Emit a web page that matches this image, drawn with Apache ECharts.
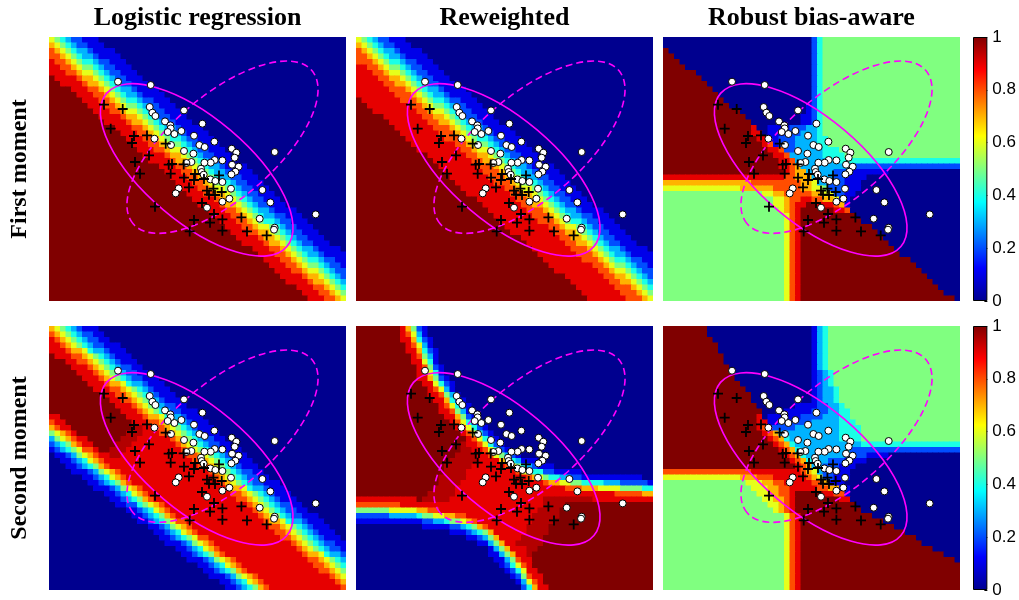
<!DOCTYPE html>
<html>
<head>
<meta charset="utf-8">
<script src="https://cdn.jsdelivr.net/npm/echarts/dist/echarts.min.js"></script>
<style>
  html, body { margin: 0; padding: 0; background: #fff; }
  #chart { width: 1019px; height: 600px; }
</style>
</head>
<body>
<div id="chart"></div>
<script>
// probability maps, one string per grid row (top to bottom), 54 cells per row
// cell value: 0..9 and 'a' -> tenths (a = 1.0), two digits -> hundredths (95 = 0.95); "c*n" = n cells of c
const logisticFirst = [
  '6 5 4 3 2*2 1*3 0*45', '7 6 5 4 3 2*2 1*3 0*44', '8 7 6 5 4 3*2 2 1*4 0*42', '8*2 7 6 5 4 3*2 2 1*4 0*41',
  '9 8*2 7 6 5 4*2 3 2*2 1*3 0*40', '9*2 8*2 7 6 5*2 4 3 2*2 1*3 0*39', '9*3 8*2 7 6*2 5 4 3 2*2 1*3 0*38', 'a 9*4 8 7*2 6 5 4 3 2*2 1*3 0*37',
  'a*2 9*4 8 7*2 6 5 4 3 2*2 1*3 0*36', 'a*4 9*3 8*2 7 6 5 4 3*2 2 1*4 0*34', 'a*5 9*3 8*2 7 6 5 4 3*2 2 1*4 0*33', 'a*6 9*3 8*2 7 6 5 4*2 3 2*2 1*3 0*32',
  'a*7 9*3 8*2 7 6 5*2 4 3 2*2 1*3 0*31', 'a*8 9*3 8*2 7 6*2 5 4 3 2*2 1*3 0*30', 'a*9 9*4 8 7*2 6 5 4 3 2*2 1*3 0*29', 'a*10 9*4 8 7*2 6 5 4 3 2*2 1*3 0*28',
  'a*12 9*3 8*2 7 6 5 4 3*2 2 1*4 0*26', 'a*13 9*3 8*2 7 6 5 4 3*2 2 1*4 0*25', 'a*14 9*3 8*2 7 6 5 4*2 3 2*2 1*3 0*24', 'a*15 9*3 8*2 7 6 5*2 4 3 2*2 1*3 0*23',
  'a*16 9*3 8*2 7 6*2 5 4 3 2*2 1*3 0*22', 'a*17 9*4 8 7*2 6 5 4 3 2*2 1*3 0*21', 'a*18 9*4 8 7*2 6 5 4 3 2*2 1*3 0*20', 'a*20 9*3 8*2 7 6 5 4 3*2 2 1*4 0*18',
  'a*21 9*3 8*2 7 6 5 4 3*2 2 1*4 0*17', 'a*22 9*3 8*2 7 6 5 4 3*2 2*2 1*3 0*16', 'a*23 9*3 8*2 7 6 5 4*2 3 2*2 1*3 0*15', 'a*24 9*3 8*2 7 6*2 5 4 3 2*2 1*3 0*14',
  'a*25 9*3 8*2 7*2 6 5 4 3 2*2 1*3 0*13', 'a*26 9*4 8 7*2 6 5 4 3 2*2 1*3 0*12', 'a*27 9*4 8 7*2 6 5 4 3 2*2 1*3 0*11', 'a*29 9*3 8*2 7 6 5 4 3*2 2 1*4 0*9',
  'a*30 9*3 8*2 7 6 5 4 3*2 2*2 1*3 0*8', 'a*31 9*3 8*2 7 6 5 4*2 3 2*2 1*3 0*7', 'a*32 9*3 8*2 7 6*2 5 4 3 2*2 1*3 0*6', 'a*33 9*3 8*2 7*2 6 5 4 3 2*2 1*3 0*5',
  'a*34 9*4 8 7*2 6 5 4 3 2*2 1*3 0*4', 'a*35 9*4 8 7*2 6 5 4 3 2*2 1*3 0*3', 'a*37 9*3 8*2 7 6 5 4 3*2 2 1*4 0', 'a*38 9*3 8*2 7 6 5 4 3*2 2 1*4',
  'a*39 9*3 8*2 7 6 5 4*2 3 2*2 1*2', 'a*40 9*3 8*2 7 6 5*2 4 3 2*2 1', 'a*41 9*3 8*2 7 6*2 5 4 3 2*2', 'a*42 9*4 8 7*2 6 5 4 3 2',
  'a*43 9*4 8 7*2 6 5 4 3', 'a*45 9*3 8*2 7 6 5 4', 'a*46 9*3 8*2 7 6 5', 'a*47 9*3 8*2 7 6'
];
const reweightedFirst = [
  '6 5 4 3 2*2 1*3 0*45', '7 6 5 4 3 2*2 1*3 0*44', '8 7 6 5 4 3*2 2 1*4 0*42', '8*2 7 6 5 4 3*2 2 1*4 0*41',
  '8*3 7 6 5 4*2 3 2*2 1*3 0*40', '9*2 8*2 7 6 5*2 4 3 2*2 1*3 0*39', '9*3 8*2 7 6*2 5 4 3 2*2 1*3 0*38', '9*4 8*2 7*2 6 5 4 3 2*2 1*3 0*37',
  '9*5 8*2 7*2 6 5 4 3 2*2 1*3 0*36', '9*6 8*3 7 6 5 4 3*2 2 1*4 0*34', '9*7 8*3 7 6 5 4 3*2 2 1*4 0*33', 'a 9*7 8*3 7 6 5 4*2 3 2*2 1*3 0*32',
  'a*2 9*8 8*2 7 6 5*2 4 3 2*2 1*3 0*31', 'a*3 9*8 8*2 7 6*2 5 4 3 2*2 1*3 0*30', 'a*5 9*7 8*2 7*2 6 5 4 3 2*2 1*3 0*29', 'a*6 9*7 8*2 7*2 6 5 4 3 2*2 1*3 0*28',
  'a*7 9*7 8*3 7 6 5 4 3*2 2 1*4 0*26', 'a*8 9*7 8*3 7 6 5 4 3*2 2 1*4 0*25', 'a*9 9*7 8*3 7 6 5 4*2 3 2*2 1*3 0*24', 'a*10 9*8 8*2 7 6 5*2 4 3 2*2 1*3 0*23',
  'a*11 9*8 8*2 7 6*2 5 4 3 2*2 1*3 0*22', 'a*13 9*7 8*2 7*2 6 5 4 3 2*2 1*3 0*21', 'a*14 9*7 8*2 7*2 6 5 4 3 2*2 1*3 0*20', 'a*15 9*7 8*3 7 6 5 4 3*2 2 1*4 0*18',
  'a*16 9*7 8*3 7 6 5 4 3*2 2 1*4 0*17', 'a*17 9*7 8*3 7 6 5 4 3*2 2*2 1*3 0*16', 'a*18 9*7 8*3 7 6 5 4*2 3 2*2 1*3 0*15', 'a*19 9*8 8*2 7 6*2 5 4 3 2*2 1*3 0*14',
  'a*20 9*8 8*2 7*2 6 5 4 3 2*2 1*3 0*13', 'a*22 9*7 8*2 7*2 6 5 4 3 2*2 1*3 0*12', 'a*23 9*7 8*2 7*2 6 5 4 3 2*2 1*3 0*11', 'a*24 9*7 8*3 7 6 5 4 3*2 2 1*4 0*9',
  'a*25 9*7 8*3 7 6 5 4 3*2 2*2 1*3 0*8', 'a*26 9*7 8*3 7 6 5 4*2 3 2*2 1*3 0*7', 'a*27 9*8 8*2 7 6*2 5 4 3 2*2 1*3 0*6', 'a*28 9*8 8*2 7*2 6 5 4 3 2*2 1*3 0*5',
  'a*30 9*7 8*2 7*2 6 5 4 3 2*2 1*3 0*4', 'a*31 9*7 8*2 7*2 6 5 4 3 2*2 1*3 0*3', 'a*32 9*7 8*3 7 6 5 4 3*2 2 1*4 0', 'a*33 9*7 8*3 7 6 5 4 3*2 2 1*4',
  'a*34 9*7 8*3 7 6 5 4*2 3 2*2 1*2', 'a*35 9*8 8*2 7 6 5*2 4 3 2*2 1', 'a*36 9*8 8*2 7 6*2 5 4 3 2*2', 'a*38 9*7 8*2 7*2 6 5 4 3 2',
  'a*39 9*7 8*2 7*2 6 5 4 3', 'a*40 9*7 8*3 7 6 5 4', 'a*41 9*7 8*3 7 6 5', 'a*42 9*7 8*3 7 6'
];
const robustFirst = [
  '0*27 2 4 5*25', '0*27 2 4 5*25', 'a 0*26 2 4 5*25', 'a*2 0*25 2 4 5*25',
  'a*3 0*24 2 4 5*25', 'a*4 0*23 2 4 5*25', 'a*6 0*21 2 4 5*25', 'a*7 0*20 2 4 5*25',
  'a*8 0*19 2 4 5*25', 'a*9 0*18 2 4 5*25', 'a*10 0*17 2 4 5*25', 'a*11 0*16 2 4 5*25',
  'a*12 0*14 1 2 4 5*25', 'a*14 0*12 1 2 4 5*25', 'a*15 0*10 1*2 2 4 5*25', 'a*16 0*9 1*2 2 4 5*25',
  'a*16 9 0*2 1*4 2*3 3*2 4 5*25', 'a*16 9*2 0 1*3 2*3 3*3 4 5*25', 'a*17 9*2 1*2 2*3 3*4 4*2 5*24', 'a*18 9 8 1 2*3 3*4 4*2 5*24',
  'a*19 9*2 8 2*2 3*5 4*3 5*22', 'a*20 9*2 8 3*6 4*4 5*21', 'a*21 9*2 8 3*7 4*23', 'a*21 9*2 8 7 3*9 2*20',
  'a*22 9 8 7*2 3*5 2*3 1*7 0*13', '9*22 8*2 7*3 3*4 2*2 1*4 0*17', '7*16 8*9 7*2 6 3*2 2*3 1*3 0*18', '6*14 7*6 8*5 7*2 6*2 5 2*3 1*3 0*18',
  '5*18 6*2 7*2 8*5 7*2 6*2 2*2 1*2 0*19', '5*20 6*2 7 8*2 9*2 8*2 7*2 6 1*2 0*20', '5*20 6*2 7 8 9*2 a*2 9*3 8 7 1 0*20', '5*21 6 7 8 9 a*6 9*2 8 0*20',
  '5*22 6 8 9 a*10 0*19', '5*22 6 8 9 a*11 0*18', '5*22 6 8 9 a*13 0*16', '5*22 6 8 9 a*14 0*15',
  '5*22 6 8 9 a*15 0*14', '5*22 6 8 9 a*16 0*13', '5*22 6 8 9 a*17 0*12', '5*22 6 8 9 a*18 0*11',
  '5*22 6 8 9 a*20 0*9', '5*22 6 8 9 a*21 0*8', '5*22 6 8 9 a*22 0*7', '5*22 6 8 9 a*23 0*6',
  '5*22 6 8 9 a*24 0*5', '5*22 6 8 9 a*25 0*4', '5*22 6 8 9 a*26 0*3', '5*22 6 8 9 a*28 0'
];
const logisticSecond = [
  '7 6 5 4 3 2 1*3 0*45', '8 7 6 5 4 3 2*2 1*2 0*44', '9 8 7 6 5 4 3 2*2 1*2 0*43', '9*2 8 7 6 5 4 3 2*2 1*3 0*41',
  '9*3 8 7*2 6 4 3*2 2 1*3 0*40', 'a 9*3 8*2 7 6 5 4 3 2 1*3 0*39', 'a*3 9*2 8*2 7 6 5 4 3 2 1*3 0*38', 'a*4 9*3 8 7 6 5 4 3 2*2 1*2 0*37',
  'a*5 9*3 8 7 6 5 4 3 2*2 1*2 0*36', 'a*6 9*3 8 7 6 5 4 3 2*2 1*3 0*34', 'a*7 9*3 8 7*2 6 4 3*2 2 1*3 0*33', 'a*8 9*3 8*2 7 6 5 4 3 2 1*3 0*32',
  'a*10 9*2 8*2 7 6 5 4 3 2 1*3 0*31', 'a*11 9*2 8*2 7 6 5 4 3 2 1*3 0*30', 'a*12 9*3 8 7 6 5 4 3 2*2 1*2 0*29', 'a*13 9*3 8 7 6 5 4 3 2*2 1*3 0*27',
  '9*2 a*12 9*3 8 7*2 6 4 3*2 2 1*3 0*26', '8 9*2 a*12 9*3 8*2 7 6 5 4 3 2 1*3 0*25', '7 8 9*2 a*11 95*2 9*2 8*2 7 6 5 4 3 2 1*3 0*24', '5 6 7 8 9 a*9 95*3 9*3 8*2 7 6 5 4 3 2 1*3 0*23',
  '3 5 6 7 8 9*2 a*6 95*3 9*6 8 7 6 5 4 3 2*2 1*2 0*22', '2 3 4 5 7 8 9*2 a*4 95*3 9*8 8 7 6 5 4 3 2*2 1*2 0*21', '1 2 3 4 5 6 8*2 9 a*2 95*3 9*10 8 7 6 5 4 3 2*2 1*3 0*19', '0 1*2 2 3 5 6 7 8 9*2 95*2 9*12 8*2 7 6 5 4 3 2 1*3 0*18',
  '0*2 1*2 2 3 4 6 7 8 9*16 8*2 7 6 5 4 3 2 1*3 0*17', '0*3 1*2 2 3 4 5 7 8 9*16 8*2 7 6 5 4 3 2 1*3 0*16', '0*4 1*3 2 3 5 6 7 8 9*16 8 7 6 5 4 3 2*2 1*2 0*15', '0*6 1*2 2 3 4 6 7 8 9*16 8 7 6 5 4 3 2*2 1*2 0*14',
  '0*7 1*2 2 3 4 5 7 8 9*16 8 7 6 5 4 3 2*2 1*3 0*12', '0*8 1*3 2 3 5 6 7 8 9*15 8 7*2 6 4 3*2 2 1*3 0*11', '0*10 1*2 2 3 4 6 7 8 9*15 8*2 7 6 5 4 3 2 1*3 0*10', '0*11 1*2 2 3 4 5 7 8 9*15 8*2 7 6 5 4 3 2 1*3 0*9',
  '0*12 1*2 2*2 4 5 6 7 8 9*15 8 7 6 5 4 3 2*2 1*2 0*8', '0*14 1*2 2 3 4 6 7 8 9*15 8 7 6 5 4 3 2*2 1*2 0*7', '0*15 1*2 2 3 4 5 7 8 9*15 8 7 6 5 4 3 2*2 1*3 0*5', '0*16 1*2 2 3 4 5 6 8*2 9*14 8 7*2 6 4 3*2 2 1*3 0*4',
  '0*18 1*2 2 3 5 6 7 8 9*14 8*2 7 6 5 4 3 2 1*3 0*3', '0*19 1*2 2 3 4 6 7 8 9*14 8*2 7 6 5 4 3 2 1*3 0*2', '0*20 1*2 2 3 4 5 6 8*2 9*13 8*2 7 6 5 4 3 2 1*3 0', '0*21 1*3 2 3 5 6 7 8 9*14 8 7 6 5 4 3 2*2 1*2',
  '0*23 1*2 2 3 4 6 7 8 9*14 8 7 6 5 4 3 2*2 1', '0*24 1*2 2 3 4 5 7 8 9*14 8 7*2 6 4 3*2 2', '0*25 1*3 2 3 5 6 7 8 9*13 8*2 7 6 5 4 3', '0*27 1*2 2 3 4 6 7 8 9*13 8*2 7 6 5 4',
  '0*28 1*2 2 3 4 5 7 8 9*13 8*2 7 6 5', '0*29 1*3 2 3 5 6 7 8 9*13 8 7 6', '0*31 1*2 2 3 4 6 7 8 9*13 8 7', '0*32 1*2 2 3 4 5 7 8 9*13 8'
];
const reweightedSecond = [
  'a*8 9 7 5 2 1 0*41', 'a*8 9 8 6 3 1 0*41', 'a*8 9*2 7 4 2 1 0*40', 'a*9 9 8 6 3 1 0*40',
  'a*9 9*2 7 4 2 1 0*39', 'a*10 9 8 5 3 1 0*39', 'a*10 9*2 6 4 1 0*39', 'a*11 9 8 5 2 1 0*38',
  'a*11 9*2 6 4 1 0*38', 'a*11 9*2 7 5 2 1 0*37', 'a*12 9*2 6 4 2 1 0*36', 'a*13 9 8 6 3 1 0*36',
  'a*13 9*2 8 5 3 1 0*35', 'a*14 9*2 7 4 2 1 0*34', 'a*15 9 8 6 4 1*2 0*33', 'a*15 9*2 8 5 3 1 0*33',
  'a*16 9*2 7 5 2 1 0*32', 'a*17 9 8 6 4 2 1 0*31', 'a*18 9 8 6 4 2 1 0*30', 'a*19 9 8 6 4 2 1 0*29',
  'a*20 9 8 6 4 2 1 0*28', 'a*19 95 9*2 8 6 4 2 1 0*27', 'a*19 95*2 9*2 8 6 4 2 1 0*26', 'a*18 95*4 9*2 8 6 5 3 2 1 0*24',
  'a*17 95*5 9*4 7 6 4 3 1*3 0*21', 'a*16 95*5 9*6 8 7 5 4 3 2 1*3 0*18', 'a*16 95*4 9*9 8 6 5 4*2 2*2 1*5 0*13', 'a*15 95*5 9*11 8 7 6 5 4*2 3*2 2*2 1*11 0*2',
  'a*15 95*4 9*15 8 7*2 6*2 5*2 4*4 3*3 2*5 1', 'a*14 95*4 9*20 8*3 7*3 6*4 5*4 4*2', 'a*13 95*5 9*29 8*5 7*2', '9*11 a 95*5 9*17 95*9 9*11',
  '8*8 9*26 95*4 a*16', '5*6 6*5 7*2 8*2 9*18 95*4 a*17', '2*6 3*5 4 5*2 6*2 7*2 8*2 9*12 95*5 a*17', '1*12 2*2 3*2 4 5*2 6 7 8 9*10 95*4 a*18',
  '0*12 1*5 2*2 3 4 5 7 8 9*7 95*4 a*19', '0*17 1*3 2 3 4 5 7 9*6 95*4 a*19', '0*20 1*2 2 3 5 7 9*4 95*4 a*20', '0*22 1*2 3 5 7 9*2 95*5 a*20',
  '0*24 1 3 5 7 9*3 95*2 a*21', '0*24 1*2 3 5 7 9*2 95 a*22', '0*25 1*2 3 5 8 9*2 a*22', '0*26 1 2 4 6 8 9 a*22',
  '0*27 1 2 4 6 9*2 a*21', '0*28 1 2 5 8 9*2 a*20', '0*29 1 3 6 8 9 a*20', '0*30 2 4 7 9*2 a*19'
];
const robustSecond = [
  'a*8 0*19 1 3 4 5*24', 'a*8 0*19 1 3 4 5*24', 'a*9 0*18 1 3 4 5*24', 'a*10 0*17 1 3 4 5*24',
  'a*10 0*17 1 3 4 5*24', 'a*11 0*16 1 3 4 5*24', 'a*11 0*16 1 3 4 5*24', 'a*12 0*15 1 3 4 5*24',
  'a*13 0*14 1 2 3 4 5*23', 'a*13 0*14 1 2 3 4 5*23', 'a*14 0*13 1 2 3 4 5*23', 'a*15 0*12 1 2 3 3 4 5*22',
  'a*16 0*11 1 2 3 3 4 5*22', 'a*16 0*11 1 2 3 3 4 5*22', 'a*17 0*7 1*4 2*2 3*2 4 5*21', 'a*18 0*4 1*5 2*3 3*2 4*2 5*20',
  'a*17 9 0 1*6 2*4 3*3 4*2 5*20', 'a*17 9*2 1*2 2*6 3*5 4*3 5*19', 'a*17 9 8 2*5 3*8 4*4 5*18', 'a*18 9 8 7 3*11 4*4 5*18',
  'a*19 9 8 7 4 3*9 4*4 5*18', 'a*20 9 8 7 4 3*12 4*18', 'a*21 9 8 7 4 3*9 2*20', 'a*22 9 8 7 4 3*7 2*4 1*4 0*13',
  'a*23 9 8 7 4 3*3 2*3 1*4 0*17', 'a*24 9 8 7 3*2 2*3 1*3 0*19', '8*16 9*9 8 7 6 3 2*2 1*3 0*20', '6*14 7*3 8*3 9*6 8 7 6 2*2 1*3 0*20',
  '5*15 6*3 7*2 8*2 9*5 8*2 7 1*3 0*21', '5*16 6*3 7*2 8*2 9*5 8*2 7*2 1*2 0*20', '5*17 6*2 7*2 8*2 9 a*5 9*2 8*2 1 0*20', '5*18 6*2 7*2 8 9 a*8 9*2 0*20',
  '5*19 6*2 7 8 9 a*11 0*19', '5*20 6 7 8 9 a*12 0*18', '5*22 6 8 9 a*13 0*16', '5*22 6 8 9 a*15 0*14',
  '5*22 6 8 9 a*17 0*12', '5*22 6 8 9 a*19 0*10', '5*22 6 8 9 a*21 0*8', '5*22 6 8 9 a*22 0*7',
  '5*22 6 8 9 a*24 0*5', '5*22 6 8 9 a*26 0*3', '5*22 6 8 9 a*28 0', '5*22 6 8 9 a*29',
  '5*22 6 8 9 a*29', '5*22 6 8 9 a*29', '5*22 6 8 9 a*29', '5*22 6 8 9 a*29'
];

// samples in panel units (x 0..297 right, y 0..264 down)
const negPoints = [
  [69, 44.7], [101.7, 48], [100.7, 70], [135, 73.4], [103.4, 75.7], [106.4, 79], [116, 84.4], [121.4, 88.4],
  [121.7, 91.4], [118.7, 95], [125.4, 97], [132.4, 94], [153.4, 86.7], [105.4, 101.7], [122, 108], [145, 98.7],
  [165.4, 104.7], [150.4, 108], [155.7, 110], [135, 114], [144.4, 116.7], [182.7, 111.7], [187.4, 115.7], [185.7, 120.7],
  [189.7, 129.7], [183, 127.7], [186.4, 134.7], [182.4, 137.4], [173.4, 123.4], [165.7, 123], [161.7, 125.7], [155.4, 125.7],
  [142.4, 125], [137.4, 126], [152, 131.7], [152.7, 135], [154.7, 137.7], [161.4, 142.4], [166.4, 144], [173.4, 145],
  [182, 151.7], [180.4, 161.7], [173.4, 164.7], [129.7, 151.4], [126.7, 156.4], [158, 170.7], [225.7, 115], [213.4, 153],
  [221.4, 165.4], [210.7, 181.7], [225.7, 190.7], [225, 192.7], [266.7, 177.4]
];
const posPoints = [
  [55, 67.7], [73.7, 72], [61.7, 91.7], [85, 99], [98, 98.4], [83, 106], [116.7, 106.7], [100, 118.4],
  [86, 125], [91, 136.7], [119.7, 127.7], [123, 127], [121.7, 136.7], [134.7, 127.4], [135, 140.7], [146, 137],
  [145, 143], [155, 142], [140, 150.4], [170, 138.4], [158, 153.7], [164.4, 151.7], [166, 158], [160, 157.7],
  [172.7, 155], [153, 166], [106, 169.7], [145, 183], [165, 177], [161, 185.7], [173.4, 182.4], [192.4, 180.4],
  [140.7, 194.4], [173.4, 193.7], [198, 194.4], [217.7, 198.4]
];
// [cx, cy, semi-major, semi-minor, tilt (deg, clockwise), dashed]
const trainEllipse = [147.7, 132.9, 118.3, 52.1, 40.3, 0];
const testEllipse = [173.5, 110.2, 117.7, 51.9, -40.6, 1];

const colTitles = ['Logistic regression', 'Reweighted', 'Robust bias-aware'];
const rowTitles = ['First moment', 'Second moment'];

const jet = ['#00008F', '#0000FF', '#0080FF', '#00FFFF', '#80FF80', '#FFFF00', '#FF8000', '#FF0000', '#800000'];
const COLS = 54, ROWS = 48;
const panelLeft = [49, 356, 663], panelTop = [37, 326], panelW = 297, panelH = 264;
const plusPath = 'path://M4.1,0H5.9V4.1H10V5.9H5.9V10H4.1V5.9H0V4.1H4.1Z';

const badRows = [];
function decodeRow(s, tag) {
  const out = [];
  s.split(' ').forEach(tok => {
    const parts = tok.split('*');
    const v = parts[0].length === 1 ? parseInt(parts[0], 11) / 10 : parseInt(parts[0], 10) / 100;
    const n = parts[1] ? +parts[1] : 1;
    for (let i = 0; i < n; i++) out.push(v);
  });
  if (out.length !== COLS) badRows.push(tag + ':' + out.length);
  return out;
}

const panels = [logisticFirst, reweightedFirst, robustFirst, logisticSecond, reweightedSecond, robustSecond];
const colIdx = Array.from({ length: COLS }, (_, i) => i);
const rowIdx = Array.from({ length: ROWS }, (_, i) => i);

const grid = [], xAxis = [], yAxis = [], series = [], cellIdx = [];

function renderCell(params, api) {
  const pt = api.coord([api.value(0), api.value(1)]);
  const sz = api.size([1, 1]);
  return {
    type: 'rect',
    shape: { x: pt[0] - sz[0] / 2, y: pt[1] - sz[1] / 2, width: sz[0] + 0.6, height: sz[1] + 0.6 },
    style: { fill: api.visual('color') }
  };
}

function renderEllipse(params, api) {
  const c = api.coord([api.value(0), api.value(1)]);
  const s = api.size([api.value(2), api.value(3)]);
  return {
    type: 'ellipse', x: c[0], y: c[1], rotation: -api.value(4) * Math.PI / 180,
    shape: { cx: 0, cy: 0, rx: s[0], ry: s[1] },
    style: { fill: 'none', stroke: '#FF00FF', lineWidth: 1.6, lineDash: api.value(5) ? [7, 4] : null }
  };
}

panels.forEach((rows, p) => {
  grid.push({ left: panelLeft[p % 3], top: panelTop[Math.floor(p / 3)], width: panelW, height: panelH });
  xAxis.push({ type: 'category', gridIndex: p, data: colIdx, show: false });
  xAxis.push({ type: 'value', gridIndex: p, min: 0, max: panelW, show: false });
  yAxis.push({ type: 'category', gridIndex: p, data: rowIdx, inverse: true, show: false });
  yAxis.push({ type: 'value', gridIndex: p, min: 0, max: panelH, inverse: true, show: false });

  const cells = [];
  rows.forEach((s, r) => decodeRow(s, p + '/' + r).forEach((v, c) => cells.push([c, r, v])));
  if (rows.length !== ROWS) badRows.push(p + ' rows ' + rows.length);
  cellIdx.push(series.length);
  series.push({
    type: 'custom', xAxisIndex: 2 * p, yAxisIndex: 2 * p, data: cells,
    renderItem: renderCell, silent: true, clip: true, progressive: 0, z: 1
  });
  series.push({
    type: 'custom', xAxisIndex: 2 * p + 1, yAxisIndex: 2 * p + 1,
    data: [trainEllipse, testEllipse], renderItem: renderEllipse, silent: true, z: 3
  });
  series.push({
    type: 'scatter', xAxisIndex: 2 * p + 1, yAxisIndex: 2 * p + 1, data: negPoints,
    symbol: 'circle', symbolSize: 7, silent: true, z: 4,
    itemStyle: { color: '#fff', borderColor: '#000', borderWidth: 1, opacity: 1 }
  });
  series.push({
    type: 'scatter', xAxisIndex: 2 * p + 1, yAxisIndex: 2 * p + 1, data: posPoints,
    symbol: plusPath, symbolSize: 10, silent: true, z: 5,
    itemStyle: { color: '#000', opacity: 1 }
  });
});

// colorbars
panelTop.forEach((top) => {
  const g = grid.length;
  grid.push({ left: 973, top: top, width: 15, height: panelH });
  xAxis.push({ type: 'category', gridIndex: g, data: ['c'], show: false });
  yAxis.push({
    type: 'value', gridIndex: g, min: 0, max: 1, interval: 0.2, position: 'right',
    axisLine: { show: false }, splitLine: { show: false },
    axisTick: { show: true, inside: true, length: 3, lineStyle: { color: '#000' } },
    axisLabel: {
      color: '#000', fontFamily: 'Liberation Sans', fontSize: 17, margin: 5,
      formatter: v => String(+v.toFixed(1))
    }
  });
  series.push({
    type: 'bar', xAxisIndex: xAxis.length - 1, yAxisIndex: yAxis.length - 1,
    data: [1], barWidth: '100%', silent: true, z: 2,
    itemStyle: {
      borderColor: '#000', borderWidth: 1,
      color: new echarts.graphic.LinearGradient(0, 1, 0, 0, jet.map((c, k) => ({ offset: k / (jet.length - 1), color: c })))
    }
  });
});

const graphic = [];
colTitles.forEach((t, i) => graphic.push({
  type: 'text', x: panelLeft[i] + panelW / 2, y: 18,
  style: { text: t, font: 'bold 26px "Liberation Serif", "Times New Roman", serif', fill: '#000', textAlign: 'center', align: 'center', textVerticalAlign: 'middle', verticalAlign: 'middle' }
}));
rowTitles.forEach((t, i) => graphic.push({
  type: 'text', x: 20, y: panelTop[i] + panelH / 2, rotation: Math.PI / 2,
  style: { text: t, font: 'bold 24px "Liberation Serif", "Times New Roman", serif', fill: '#000', textAlign: 'center', align: 'center', textVerticalAlign: 'middle', verticalAlign: 'middle' }
}));
if (badRows.length) {
  graphic.push({ type: 'text', x: 60, y: 300, z: 100, style: { text: 'BAD ' + badRows.join(' '), font: '12px sans-serif', fill: '#f0f' } });
}

const chart = echarts.init(document.getElementById('chart'));
chart.setOption({
  animation: false,
  backgroundColor: '#fff',
  grid, xAxis, yAxis, series, graphic,
  visualMap: {
    type: 'continuous', min: 0, max: 1, dimension: 2, show: false, seriesIndex: cellIdx,
    inRange: { color: jet }
  }
});
</script>
</body>
</html>
